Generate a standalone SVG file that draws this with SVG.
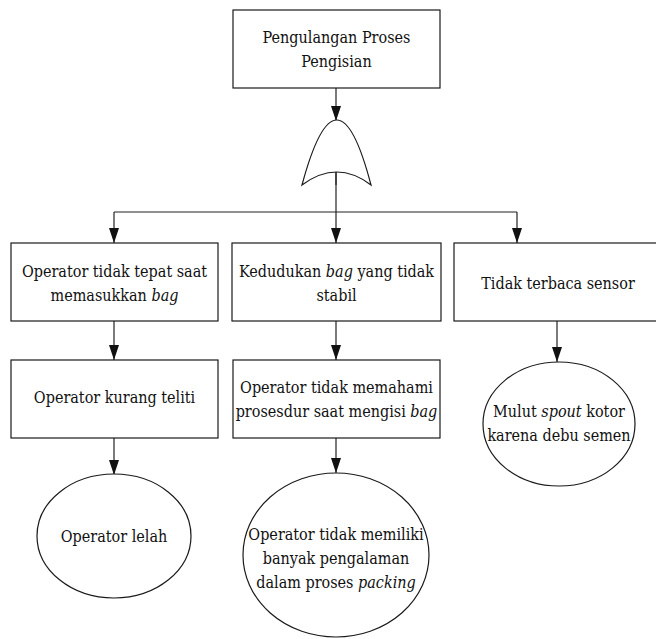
<svg xmlns="http://www.w3.org/2000/svg" width="656" height="639" viewBox="0 0 656 639">
<style>
.n{fill:#fff;stroke:#1a1a1a;stroke-width:1.2}
.c{fill:none;stroke:#222;stroke-width:1.2}
.t{font-family:"DejaVu Serif Condensed","DejaVu Serif",serif;font-stretch:condensed;font-size:16px;fill:#111;text-anchor:middle}
.i{font-style:italic}
</style>
<defs>
<marker id="ah" markerUnits="userSpaceOnUse" markerWidth="15" markerHeight="10" viewBox="0 0 15 10" refX="15" refY="5" orient="auto">
<path d="M0,0 L15,5 L0,10 Z" fill="#111"/>
</marker>
</defs>
<rect width="656" height="639" fill="#fff"/>
<g id="connectors">
<line class="c" x1="336" y1="88" x2="336" y2="121" marker-end="url(#ah)"/>
<line class="c" x1="336" y1="172" x2="336" y2="243" marker-end="url(#ah)"/>
<polyline class="c" points="114,212 517,212"/>
<line class="c" x1="114" y1="212" x2="114" y2="243" marker-end="url(#ah)"/>
<line class="c" x1="517" y1="212" x2="517" y2="243" marker-end="url(#ah)"/>
<line class="c" x1="114" y1="321" x2="114" y2="360" marker-end="url(#ah)"/>
<line class="c" x1="336" y1="321" x2="336" y2="360" marker-end="url(#ah)"/>
<line class="c" x1="557" y1="321" x2="557" y2="362" marker-end="url(#ah)"/>
<line class="c" x1="114" y1="438" x2="114" y2="475" marker-end="url(#ah)"/>
<line class="c" x1="336" y1="438" x2="336" y2="473" marker-end="url(#ah)"/>
</g>
<g id="top">
<rect class="n" x="233" y="10" width="207" height="78"/>
<text class="t" x="336.5" y="43">Pengulangan Proses</text>
<text class="t" x="336.5" y="67">Pengisian</text>
</g>
<g id="gate">
<path class="n" d="M302,185 Q337,55 371,185 Q337,159 302,185 Z"/>
<line class="c" x1="336" y1="172" x2="336" y2="185"/>
</g>
<g id="b1">
<rect class="n" x="11" y="243" width="207" height="78"/>
<text class="t" x="114.5" y="277">Operator tidak tepat saat</text>
<text class="t" x="114.5" y="301">memasukkan <tspan class="i">bag</tspan></text>
</g>
<g id="b2">
<rect class="n" x="232" y="243" width="209" height="78"/>
<text class="t" x="336.5" y="277">Kedudukan <tspan class="i">bag</tspan> yang tidak</text>
<text class="t" x="336.5" y="301">stabil</text>
</g>
<g id="b3">
<rect class="n" x="454" y="243" width="209" height="78"/>
<text class="t" x="558" y="289">Tidak terbaca sensor</text>
</g>
<g id="b4">
<rect class="n" x="11" y="360" width="207" height="78"/>
<text class="t" x="114.5" y="403">Operator kurang teliti</text>
</g>
<g id="b5">
<rect class="n" x="233" y="360" width="207" height="78"/>
<text class="t" x="336.5" y="393">Operator tidak memahami</text>
<text class="t" x="336.5" y="417">prosesdur saat mengisi <tspan class="i">bag</tspan></text>
</g>
<g id="e1">
<ellipse class="n" cx="114" cy="536" rx="77" ry="62"/>
<text class="t" x="114" y="542">Operator lelah</text>
</g>
<g id="e2">
<ellipse class="n" cx="336" cy="555" rx="93" ry="82"/>
<text class="t" x="336" y="540">Operator tidak memiliki</text>
<text class="t" x="336" y="564">banyak pengalaman</text>
<text class="t" x="336" y="588">dalam proses <tspan class="i">packing</tspan></text>
</g>
<g id="e3">
<ellipse class="n" cx="559" cy="424" rx="76" ry="62"/>
<text class="t" x="559" y="417">Mulut <tspan class="i">spout</tspan> kotor</text>
<text class="t" x="559" y="441">karena debu semen</text>
</g>
</svg>
